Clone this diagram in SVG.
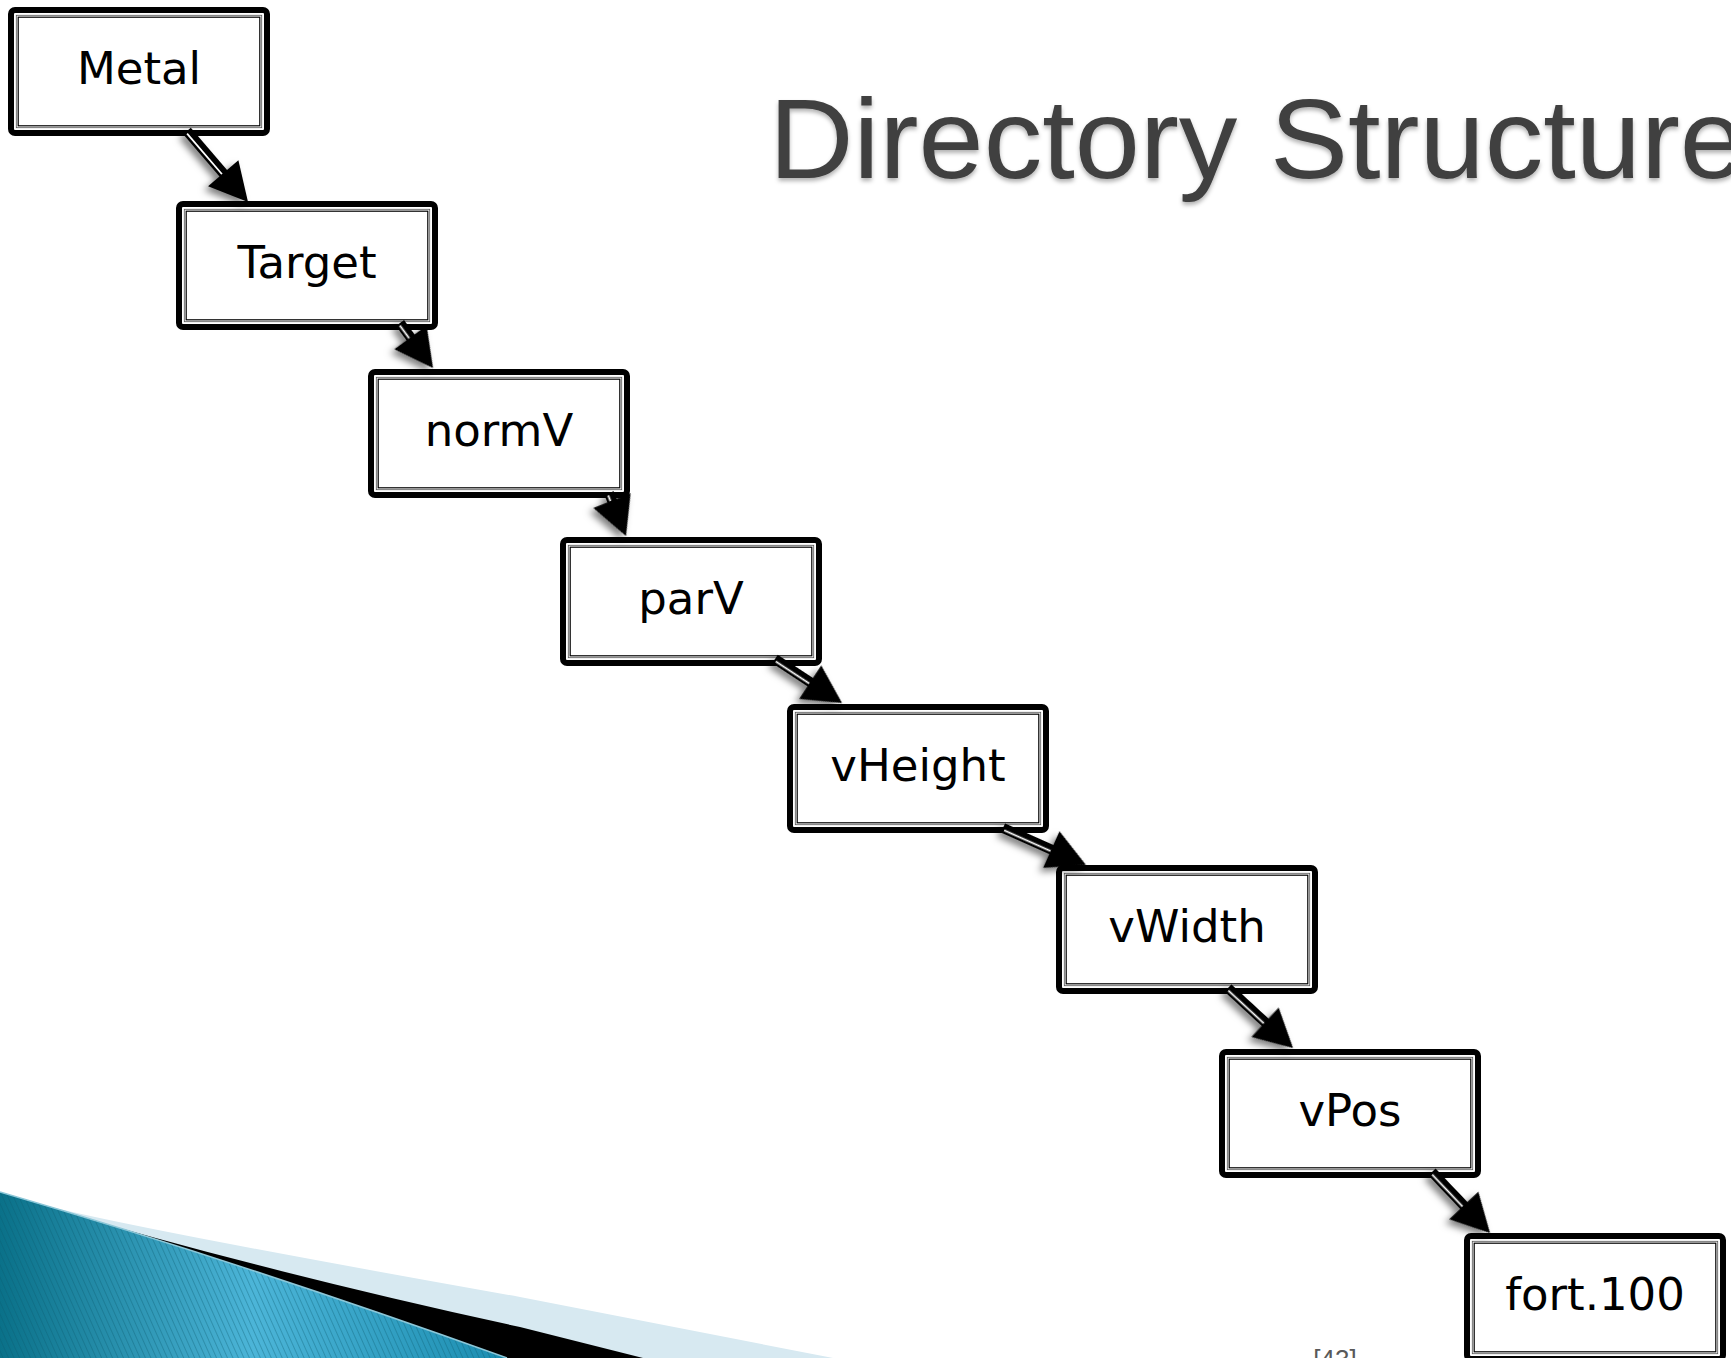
<svg xmlns="http://www.w3.org/2000/svg" width="1731" height="1358" viewBox="0 0 1731 1358">
<defs>
<style>
.outer{fill:#fff;stroke:#000;stroke-width:6}
.in1{fill:none;stroke:#555;stroke-width:0.8}
.in2{fill:none;stroke:#000;stroke-width:1.2}
.lbl{font-family:"DejaVu Sans","Liberation Sans",sans-serif;font-size:45px;fill:#000;text-anchor:middle}
.shaft{stroke:#000;stroke-width:10;fill:none}
.shaftw{stroke:#fff;stroke-width:1.8;fill:none}
.head{fill:#000}
.title{font-family:"Liberation Sans",Arial,sans-serif;font-size:114px;fill:#404040}
.pg{font-family:"Liberation Sans",Arial,sans-serif;font-size:26px;fill:#595959;text-anchor:middle}
</style>
<filter id="shadow" x="-30%" y="-30%" width="160%" height="160%">
<feDropShadow dx="-4" dy="4" stdDeviation="3.5" flood-color="#000" flood-opacity="0.5"/>
</filter>
<filter id="tshadow" x="-5%" y="-20%" width="110%" height="150%">
<feDropShadow dx="0" dy="3" stdDeviation="2" flood-color="#000" flood-opacity="0.3"/>
</filter>
<linearGradient id="teal" x1="0" y1="0" x2="1" y2="0">
<stop offset="0" stop-color="#0a7189"/>
<stop offset="0.5" stop-color="#4cb5d8"/>
<stop offset="1" stop-color="#1b8db0"/>
</linearGradient>
<pattern id="stripes" width="5" height="10" patternUnits="userSpaceOnUse" patternTransform="rotate(-24)">
<rect x="0" y="0" width="1" height="10" fill="#0a5a70" fill-opacity="0.35"/>
</pattern>
</defs>
<rect width="1731" height="1358" fill="#fff"/>

<g id="decoration">
<path d="M40,1204 Q120,1226 520,1297 L833,1358 L0,1358 Z" fill="#d7e9f1"/>
<path d="M60,1211 Q280,1275 520,1327 L643,1358 L0,1358 Z" fill="#000"/>
<path d="M0,1192 Q240,1262 507,1358 L0,1358 Z" fill="url(#teal)"/>
<path d="M0,1192 Q240,1262 507,1358 L0,1358 Z" fill="url(#stripes)"/>
<path d="M0,1192 Q240,1262 507,1358" fill="none" stroke="#8cc7d8" stroke-width="1.5"/>
</g>

<text class="title" x="769" y="178" textLength="976" lengthAdjust="spacingAndGlyphs" filter="url(#tshadow)">Directory Structure</text>

<g id="nodes">
<g id="node-metal" transform="translate(8,7)"><rect class="outer" x="3" y="3" width="256" height="123" rx="4"/><rect class="in1" x="8.3" y="8.3" width="245.4" height="112.4"/><rect class="in2" x="10.2" y="10.2" width="241.6" height="108.6"/><text class="lbl" x="131" y="77">Metal</text></g>
<g id="node-target" transform="translate(176,201)"><rect class="outer" x="3" y="3" width="256" height="123" rx="4"/><rect class="in1" x="8.3" y="8.3" width="245.4" height="112.4"/><rect class="in2" x="10.2" y="10.2" width="241.6" height="108.6"/><text class="lbl" x="131" y="77">Target</text></g>
<g id="node-normV" transform="translate(368,369)"><rect class="outer" x="3" y="3" width="256" height="123" rx="4"/><rect class="in1" x="8.3" y="8.3" width="245.4" height="112.4"/><rect class="in2" x="10.2" y="10.2" width="241.6" height="108.6"/><text class="lbl" x="131" y="77">normV</text></g>
<g id="node-parV" transform="translate(560,537)"><rect class="outer" x="3" y="3" width="256" height="123" rx="4"/><rect class="in1" x="8.3" y="8.3" width="245.4" height="112.4"/><rect class="in2" x="10.2" y="10.2" width="241.6" height="108.6"/><text class="lbl" x="131" y="77">parV</text></g>
<g id="node-vHeight" transform="translate(787,704)"><rect class="outer" x="3" y="3" width="256" height="123" rx="4"/><rect class="in1" x="8.3" y="8.3" width="245.4" height="112.4"/><rect class="in2" x="10.2" y="10.2" width="241.6" height="108.6"/><text class="lbl" x="131" y="77">vHeight</text></g>
<g id="node-vWidth" transform="translate(1056,865)"><rect class="outer" x="3" y="3" width="256" height="123" rx="4"/><rect class="in1" x="8.3" y="8.3" width="245.4" height="112.4"/><rect class="in2" x="10.2" y="10.2" width="241.6" height="108.6"/><text class="lbl" x="131" y="77">vWidth</text></g>
<g id="node-vPos" transform="translate(1219,1049)"><rect class="outer" x="3" y="3" width="256" height="123" rx="4"/><rect class="in1" x="8.3" y="8.3" width="245.4" height="112.4"/><rect class="in2" x="10.2" y="10.2" width="241.6" height="108.6"/><text class="lbl" x="131" y="77">vPos</text></g>
<g id="node-fort100" transform="translate(1464,1233)"><rect class="outer" x="3" y="3" width="256" height="123" rx="4"/><rect class="in1" x="8.3" y="8.3" width="245.4" height="112.4"/><rect class="in2" x="10.2" y="10.2" width="241.6" height="108.6"/><text class="lbl" x="131" y="77">fort.100</text></g>
</g>

<g id="connectors" filter="url(#shadow)">
<g transform="translate(187,131) rotate(49.33)"><line class="shaft" x1="0" y1="0" x2="61.6" y2="0"/><line class="shaftw" x1="2" y1="1.6" x2="55.6" y2="1.6"/><polygon class="head" points="55.6,-20 93.6,0 55.6,20"/></g>
<g transform="translate(400,323) rotate(53.75)"><line class="shaft" x1="0" y1="0" x2="23.8" y2="0"/><line class="shaftw" x1="2" y1="1.6" x2="17.8" y2="1.6"/><polygon class="head" points="17.8,-20 55.8,0 17.8,20"/></g>
<g transform="translate(609,493) rotate(68.43)"><line class="shaft" x1="0" y1="0" x2="14.2" y2="0"/><line class="shaftw" x1="2" y1="1.6" x2="8.2" y2="1.6"/><polygon class="head" points="8.2,-20 46.2,0 8.2,20"/></g>
<g transform="translate(775,659) rotate(33.29)"><line class="shaft" x1="0" y1="0" x2="48.2" y2="0"/><line class="shaftw" x1="2" y1="1.6" x2="42.2" y2="1.6"/><polygon class="head" points="42.2,-20 80.2,0 42.2,20"/></g>
<g transform="translate(1003,828) rotate(24.03)"><line class="shaft" x1="0" y1="0" x2="58.9" y2="0"/><line class="shaftw" x1="2" y1="1.6" x2="52.9" y2="1.6"/><polygon class="head" points="52.9,-20 90.9,0 52.9,20"/></g>
<g transform="translate(1228,988) rotate(42.71)"><line class="shaft" x1="0" y1="0" x2="56.5" y2="0"/><line class="shaftw" x1="2" y1="1.6" x2="50.5" y2="1.6"/><polygon class="head" points="50.5,-20 88.5,0 50.5,20"/></g>
<g transform="translate(1432,1172) rotate(46.44)"><line class="shaft" x1="0" y1="0" x2="52.2" y2="0"/><line class="shaftw" x1="2" y1="1.6" x2="46.2" y2="1.6"/><polygon class="head" points="46.2,-20 84.2,0 46.2,20"/></g>
</g>

<text class="pg" x="1335" y="1368">[43]</text>
</svg>
